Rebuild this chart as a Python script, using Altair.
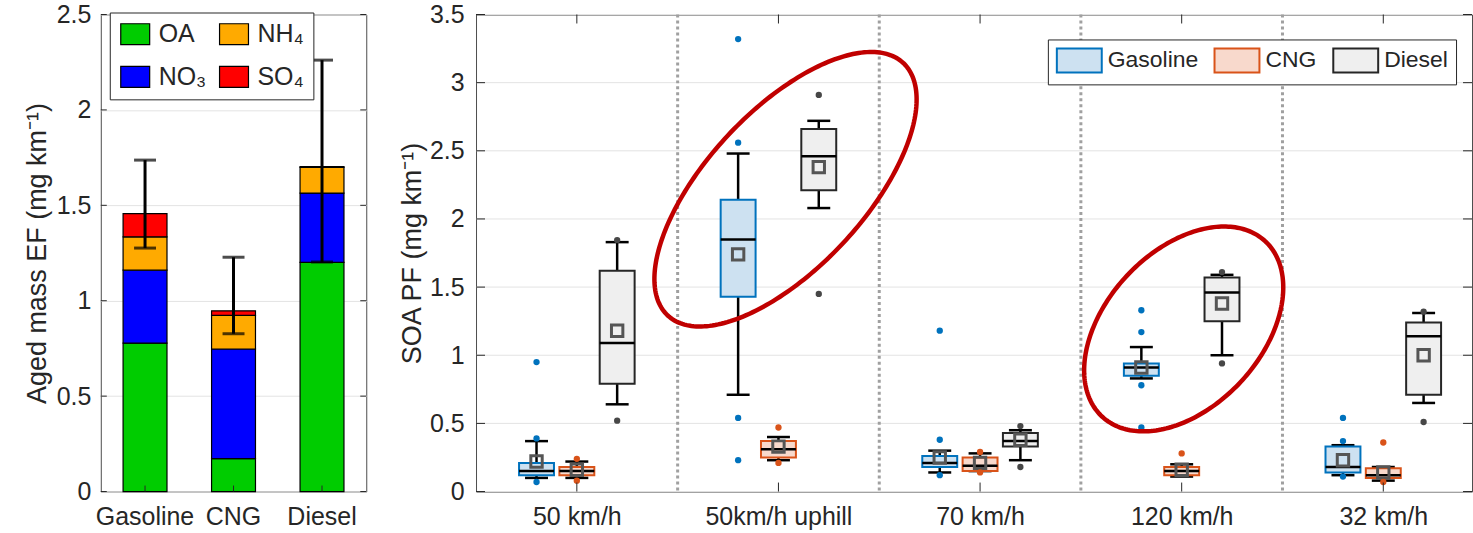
import json
import numpy as np
import pandas as pd
import altair as alt

FONT = "Liberation Sans"
TXT = "#262626"

# ---------------- Left panel data ----------------
fuels = ["Gasoline", "CNG", "Diesel"]
comp_names = ["OA", "NO₃", "NH₄", "SO₄"]          # stacking order, bottom -> top
legend_order = ["OA", "NH₄", "NO₃", "SO₄"]        # legend order (2 columns)
legend_colors = ["#00CC00", "#FFAA00", "#0000FF", "#FF0000"]
oa = [0.778, 0.173, 1.201]
no3 = [0.382, 0.574, 0.363]
nh4 = [0.175, 0.176, 0.135]
so4 = [0.122, 0.024, 0.004]
err_lo = [1.276, 0.827, 1.203]
err_hi = [1.737, 1.228, 2.261]
left_ticks = [0, 0.5, 1, 1.5, 2, 2.5]

# ---------------- Right panel data ----------------
categories = ["50 km/h", "50km/h uphill", "70 km/h", "120 km/h", "32 km/h"]
box_fuels = ["Gasoline", "CNG", "Diesel"]
box_fill = ["#cde1f1", "#f8d9cc", "#efefef"]
box_stroke = ["#0072BD", "#D95319", "#262626"]
out_color = ["#0072BD", "#D95319", "#474747"]

gas_q1 = [0.12, 1.43, 0.18, 0.85, 0.14]
gas_q3 = [0.21, 2.14, 0.26, 0.94, 0.33]
gas_med = [0.15, 1.85, 0.21, 0.91, 0.18]
gas_wlo = [0.10, 0.71, 0.14, 0.83, 0.12]
gas_whi = [0.37, 2.48, 0.30, 1.06, 0.34]
gas_mean = [0.22, 1.74, 0.25, 0.91, 0.23]
gas_out = [[0.95, 0.39, 0.07], [3.32, 2.56, 0.54, 0.23], [1.18, 0.38, 0.12],
           [1.33, 1.17, 0.78, 0.47], [0.54, 0.37, 0.11]]

cng_q1 = [0.12, 0.25, 0.15, 0.12, 0.10]
cng_q3 = [0.18, 0.37, 0.25, 0.18, 0.17]
cng_med = [0.15, 0.31, 0.19, 0.15, 0.12]
cng_wlo = [0.10, 0.23, 0.15, 0.11, 0.08]
cng_whi = [0.22, 0.40, 0.28, 0.20, 0.18]
cng_mean = [0.16, 0.33, 0.21, 0.16, 0.14]
cng_out = [[0.24, 0.08], [0.47, 0.21], [0.29, 0.14], [0.28], [0.36, 0.07]]

dsl_q1 = [0.79, 2.21, 0.33, 1.25, 0.71]
dsl_q3 = [1.62, 2.66, 0.43, 1.57, 1.24]
dsl_med = [1.09, 2.46, 0.37, 1.46, 1.14]
dsl_wlo = [0.64, 2.08, 0.23, 1.00, 0.65]
dsl_whi = [1.83, 2.72, 0.45, 1.59, 1.31]
dsl_mean = [1.18, 2.38, 0.38, 1.38, 1.00]
dsl_out = [[1.845, 0.52], [2.91, 1.45], [0.48, 0.18], [1.61, 0.94], [1.32, 0.51]]

right_ticks = [0, 0.5, 1, 1.5, 2, 2.5, 3, 3.5]
separators = [1.5, 2.5, 3.5, 4.5]

# annotation ellipses (centre in data units, semi-axes in px, rotation in deg)
ell_cx = [2.035, 4.01]
ell_cy = [2.218, 1.193]
ell_a = [173, 120]
ell_b = [79, 78]
ell_phi = [47, 47]

# ---------------- layout ----------------
LW, LH = 266, 478
RW, RH = 998, 478
XDOM = [0.5, 5.44]
YDOM_R = [0, 3.5]
PXX = RW / (XDOM[1] - XDOM[0])
PXY = RH / (YDOM_R[1] - YDOM_R[0])
OFF = {"Gasoline": -0.2, "CNG": 0.0, "Diesel": 0.2}
BOX_HW = 17.5 / PXX
CAP_HW = 11.5 / PXX

# ================= Left chart =================
rows = []
for i, f in enumerate(fuels):
    for k, (c, vals) in enumerate(zip(comp_names, [oa, no3, nh4, so4])):
        rows.append({"fuel": f, "component": c, "value": vals[i], "k": k})
bar_df = pd.DataFrame(rows)
err_df = pd.DataFrame({"fuel": fuels, "lo": err_lo, "hi": err_hi})
lt_df = pd.DataFrame({"v": left_ticks})
lf_df = pd.DataFrame({"fuel": fuels})

lx = alt.X("fuel:N", sort=fuels,
           scale=alt.Scale(domain=fuels, paddingInner=0, paddingOuter=0),
           axis=alt.Axis(title=None, labelAngle=0, labelFontSize=25, labelColor=TXT,
                         ticks=False, domain=False, labelPadding=13))
ly_scale = alt.Scale(domain=[0, 2.5], nice=False, zero=True)

bars = alt.Chart(bar_df).mark_bar(size=44, stroke="black", strokeWidth=1.2).encode(
    x=lx,
    y=alt.Y("value:Q", stack="zero", scale=ly_scale,
            axis=alt.Axis(values=left_ticks, format="~g", title="Aged mass EF (mg km⁻¹)",
                          titleFontSize=27, titleFontWeight="normal", titleColor=TXT,
                          labelFontSize=25, labelColor=TXT, tickSize=0, ticks=False,
                          domain=False, grid=True, gridColor="#e3e3e3",
                          labelPadding=10, titlePadding=5)),
    fill=alt.Fill("component:N",
                  scale=alt.Scale(domain=legend_order, range=legend_colors),
                  legend=alt.Legend(title=None, orient="none", legendX=9, legendY=-2,
                                    columns=2, direction="horizontal",
                                    strokeColor="#262626", fillColor="white",
                                    padding=9, rowPadding=16, columnPadding=10,
                                    labelFontSize=25, labelColor=TXT,
                                    symbolType="M-1,-1H1.76V1H-1Z", symbolSize=441,
                                    symbolStrokeColor="black", symbolStrokeWidth=1.2,
                                    symbolOpacity=1, labelOffset=15)),
    order=alt.Order("k:Q"),
)
err_rule = alt.Chart(err_df).mark_rule(color="black", strokeWidth=3).encode(
    x=alt.X("fuel:N", sort=fuels), y=alt.Y("lo:Q", scale=ly_scale), y2="hi:Q")
cap_lo = alt.Chart(err_df).mark_tick(color="black", thickness=3, size=22,
                                     orient="horizontal").encode(
    x=alt.X("fuel:N", sort=fuels), y=alt.Y("lo:Q", scale=ly_scale))
cap_hi = alt.Chart(err_df).mark_tick(color="black", thickness=3, size=22,
                                     orient="horizontal").encode(
    x=alt.X("fuel:N", sort=fuels), y=alt.Y("hi:Q", scale=ly_scale))
ltick_l = alt.Chart(lt_df).mark_rule(color=TXT, strokeWidth=1).encode(
    y=alt.Y("v:Q", scale=ly_scale), x=alt.value(0), x2=alt.value(6))
ltick_r = alt.Chart(lt_df).mark_rule(color=TXT, strokeWidth=1).encode(
    y=alt.Y("v:Q", scale=ly_scale), x=alt.value(LW - 6), x2=alt.value(LW))
ltick_b = alt.Chart(lf_df).mark_rule(color=TXT, strokeWidth=1).encode(
    x=alt.X("fuel:N", sort=fuels), y=alt.value(LH), y2=alt.value(LH - 6))

left = alt.layer(bars, err_rule, cap_lo, cap_hi, ltick_l, ltick_r, ltick_b).properties(
    width=LW, height=LH)

# ================= Right chart =================
stats = {
    "Gasoline": (gas_q1, gas_q3, gas_med, gas_wlo, gas_whi, gas_mean, gas_out),
    "CNG": (cng_q1, cng_q3, cng_med, cng_wlo, cng_whi, cng_mean, cng_out),
    "Diesel": (dsl_q1, dsl_q3, dsl_med, dsl_wlo, dsl_whi, dsl_mean, dsl_out),
}
brows, orows = [], []
for f in box_fuels:
    q1, q3, med, wlo, whi, mean, outs = stats[f]
    for i, cat in enumerate(categories):
        pos = i + 1 + OFF[f]
        brows.append({"fuel": f, "pos": pos, "q1": q1[i], "q3": q3[i], "med": med[i],
                      "wlo": wlo[i], "whi": whi[i], "mean": mean[i]})
        for o in outs[i]:
            orows.append({"fuel": f, "pos": pos, "v": o})
box_df = pd.DataFrame(brows)
out_df = pd.DataFrame(orows)

xs = alt.Scale(domain=XDOM, nice=False, zero=False)
ys = alt.Scale(domain=YDOM_R, nice=False, zero=True)
label_expr = json.dumps(categories) + "[round(datum.value) - 1]"

base_box = alt.Chart(box_df).transform_calculate(
    xl=f"datum.pos - {BOX_HW}", xr=f"datum.pos + {BOX_HW}",
    cl=f"datum.pos - {CAP_HW}", cr=f"datum.pos + {CAP_HW}")

sep = alt.Chart(pd.DataFrame({"s": separators})).mark_rule(
    color="#a0a0a0", strokeWidth=3, strokeDash=[3, 3]).encode(
    x=alt.X("s:Q", scale=xs,
            axis=alt.Axis(values=[1, 2, 3, 4, 5], labelExpr=label_expr, title=None,
                          labelFontSize=25, labelColor=TXT, ticks=False, domain=False,
                          grid=False, labelPadding=13)))

grid_y = alt.Chart(pd.DataFrame({"v": right_ticks})).mark_rule(
    color="#e3e3e3", strokeWidth=1).encode(
    y=alt.Y("v:Q", scale=ys,
            axis=alt.Axis(values=right_ticks, format="~g", title="SOA PF (mg km⁻¹)",
                          titleFontSize=27, titleFontWeight="normal", titleColor=TXT,
                          labelFontSize=25, labelColor=TXT, ticks=False, domain=False,
                          grid=False, labelPadding=12, titlePadding=3)))

whisk_hi = base_box.mark_rule(color="black", strokeWidth=2.5).encode(
    x=alt.X("pos:Q", scale=xs), y=alt.Y("q3:Q", scale=ys), y2="whi:Q")
whisk_lo = base_box.mark_rule(color="black", strokeWidth=2.5).encode(
    x=alt.X("pos:Q", scale=xs), y=alt.Y("wlo:Q", scale=ys), y2="q1:Q")
cap_h = base_box.mark_rule(color="black", strokeWidth=2.5).encode(
    x=alt.X("cl:Q", scale=xs), x2="cr:Q", y=alt.Y("whi:Q", scale=ys))
cap_l = base_box.mark_rule(color="black", strokeWidth=2.5).encode(
    x=alt.X("cl:Q", scale=xs), x2="cr:Q", y=alt.Y("wlo:Q", scale=ys))

leg_r = alt.Legend(title=None, orient="none", legendX=573, legendY=25,
                   direction="horizontal", strokeColor="#262626", fillColor="white",
                   padding=8, columnPadding=12, labelFontSize=23, labelColor=TXT,
                   symbolType="M-1,-1H2.75V1H-1Z", symbolSize=576,
                   symbolStrokeWidth=2, symbolOpacity=1, labelOffset=26)
boxes = base_box.mark_rect(strokeWidth=2).encode(
    x=alt.X("xl:Q", scale=xs), x2="xr:Q",
    y=alt.Y("q1:Q", scale=ys), y2="q3:Q",
    fill=alt.Fill("fuel:N", scale=alt.Scale(domain=box_fuels, range=box_fill), legend=leg_r),
    stroke=alt.Stroke("fuel:N", scale=alt.Scale(domain=box_fuels, range=box_stroke),
                      legend=leg_r),
)
medians = base_box.mark_rule(color="black", strokeWidth=2.5).encode(
    x=alt.X("xl:Q", scale=xs), x2="xr:Q", y=alt.Y("med:Q", scale=ys))
means = base_box.mark_point(shape="square", filled=False, size=130, strokeWidth=3,
                            color="#555555", opacity=1).encode(
    x=alt.X("pos:Q", scale=xs), y=alt.Y("mean:Q", scale=ys))

out_layers = []
for f, col in zip(box_fuels, out_color):
    out_layers.append(
        alt.Chart(out_df).transform_filter(alt.datum.fuel == f).mark_circle(
            size=40, color=col, opacity=1).encode(
            x=alt.X("pos:Q", scale=xs), y=alt.Y("v:Q", scale=ys)))

erows = []
t = np.linspace(0, 2 * np.pi, 241)
for k in range(len(ell_cx)):
    phi = np.deg2rad(ell_phi[k])
    dx = ell_a[k] * np.cos(t) * np.cos(phi) - ell_b[k] * np.sin(t) * np.sin(phi)
    dy = ell_a[k] * np.cos(t) * np.sin(phi) + ell_b[k] * np.sin(t) * np.cos(phi)
    for j in range(len(t)):
        erows.append({"e": k, "i": j, "x": ell_cx[k] + dx[j] / PXX,
                      "y": ell_cy[k] + dy[j] / PXY})
ell_df = pd.DataFrame(erows)
ellipses = alt.Chart(ell_df).mark_line(color="#C00000", strokeWidth=4.5).encode(
    x=alt.X("x:Q", scale=xs), y=alt.Y("y:Q", scale=ys),
    detail="e:N", order="i:Q")

rt_df = pd.DataFrame({"v": right_ticks})
rx_df = pd.DataFrame({"c": [1, 2, 3, 4, 5]})
rtick_l = alt.Chart(rt_df).mark_rule(color=TXT, strokeWidth=1).encode(
    y=alt.Y("v:Q", scale=ys), x=alt.value(0), x2=alt.value(9))
rtick_r = alt.Chart(rt_df).mark_rule(color=TXT, strokeWidth=1).encode(
    y=alt.Y("v:Q", scale=ys), x=alt.value(RW - 9), x2=alt.value(RW))
rtick_b = alt.Chart(rx_df).mark_rule(color=TXT, strokeWidth=1).encode(
    x=alt.X("c:Q", scale=xs), y=alt.value(RH), y2=alt.value(RH - 9))
rtick_t = alt.Chart(rx_df).mark_rule(color=TXT, strokeWidth=1).encode(
    x=alt.X("c:Q", scale=xs), y=alt.value(0), y2=alt.value(9))

right = alt.layer(grid_y, sep, whisk_hi, whisk_lo, cap_h, cap_l, boxes, medians, means,
                  *out_layers, ellipses, rtick_l, rtick_r, rtick_b, rtick_t).properties(
    width=RW, height=RH)

chart = alt.hconcat(left, right, spacing=30).resolve_scale(
    fill="independent", stroke="independent"
).resolve_legend(fill="independent", stroke="independent").properties(
    padding={"left": 22, "top": 1, "right": 0, "bottom": 0},
    background="white",
).configure(font=FONT).configure_view(stroke="#4d4d4d", strokeWidth=1)

chart.save("out.html", embed_options={"renderer": "svg", "actions": False})
